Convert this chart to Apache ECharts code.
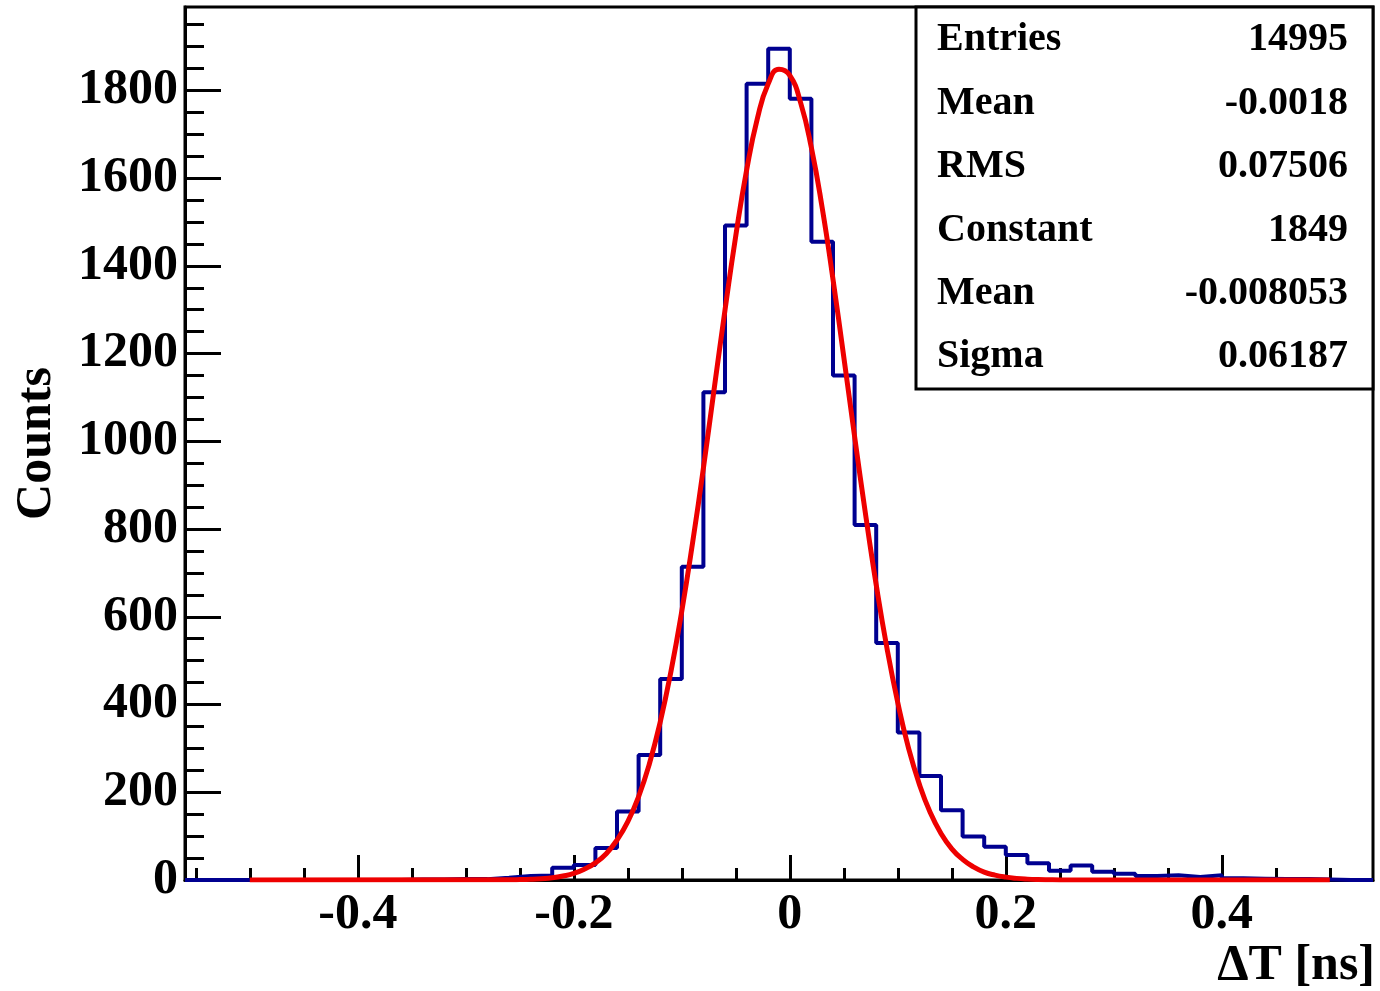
<!DOCTYPE html>
<html><head><meta charset="utf-8">
<script src="https://cdn.jsdelivr.net/npm/echarts@6/dist/echarts.min.js"></script>
<style>html,body{margin:0;padding:0;background:#fff}#c{width:1380px;height:991px}</style>
</head><body><div id="c"></div>
<script>
// Histogram: bins of width 0.02 starting at -0.56
const binLow = -0.56;
const binWidth = 0.02;
const counts = [0,0,0,0,0,0,0,0,0,0,
  1,1,2,2,5,9,10,28,34,73,
  156,285,458,714,1112,1492,1815,1895,1781,1455,
  1150,809,540,336,237,159,99,76,57,38,
  21,33,19,14,9,11,7,11,4,3,
  2,2,1,0,0];
// Gaussian fit curve
const fitX = [-0.5,-0.26,-0.25,-0.24,-0.23,-0.22,-0.21,-0.20,-0.19,-0.18,-0.17,-0.16,-0.15,-0.14,-0.13,-0.12,-0.11,-0.10,-0.09,-0.08,-0.07,-0.06,-0.05,-0.04,-0.03,-0.02,-0.01,
  0,0.01,0.02,0.03,0.04,0.05,0.06,0.07,0.08,0.09,0.10,0.11,0.12,0.13,0.14,0.15,0.16,0.17,0.18,0.19,0.20,0.21,0.22,0.23,0.24,0.25,0.5];
const fitY = [0,0.4,0.9,1.7,3,5,9,15,25,39,60,91,133,190,265,360,476,613,769,939,1120,1299,1469,1618,1736,1815,1848,
  1834,1772,1669,1532,1369,1192,1011,836,673,528,404,300,218,154,106,71,47,30,18,11,6.5,3.7,2,1,0.5,0.2,0];
const xMajorTicks = [-0.4,-0.2,0,0.2,0.4];
const xMinorTicks = [-0.55,-0.5,-0.45,-0.35,-0.3,-0.25,-0.15,-0.1,-0.05,0.05,0.1,0.15,0.25,0.3,0.35,0.45,0.5];
const yMajorTicks = [0,200,400,600,800,1000,1200,1400,1600,1800];
const yMinorTicks = [50,100,150,250,300,350,450,500,550,650,700,750,850,900,950,1050,1100,1150,1250,1300,1350,1450,1500,1550,1650,1700,1750,1850,1900,1950];
const statLabels = ['Entries','Mean','RMS','Constant','Mean','Sigma'];
const statValues = ['14995','-0.0018','0.07506','1849','-0.008053','0.06187'];

const FONT = '"Liberation Serif", "Times New Roman", serif';
const histData = counts.map((c, i) => [+(binLow + i * binWidth).toFixed(4), c]);
histData.push([+(binLow + counts.length * binWidth).toFixed(4), counts[counts.length - 1]]);
const fitData = fitX.map((x, i) => [x, fitY[i]]);

const chart = echarts.init(document.getElementById('c'), null, {renderer: 'canvas'});
const xMin = -0.56, xMax = 0.54, yMax = 1990;
const graphic = [{type: 'rect', z: 100, shape: {x: 916, y: 7, width: 457, height: 382},
  style: {fill: '#fff', stroke: '#000', lineWidth: 3}}];
statLabels.forEach((t, i) => {
  const y = 40 + i * 63.4;
  graphic.push({type: 'text', z: 101, x: 937, y: y,
    style: {text: t, font: 'bold 40px ' + FONT, fill: '#000', align: 'left', verticalAlign: 'middle'}});
  graphic.push({type: 'text', z: 101, x: 1348, y: y,
    style: {text: statValues[i], font: 'bold 40px ' + FONT, fill: '#000', align: 'right', verticalAlign: 'middle'}});
});
const plain = v => String(+v.toFixed(4));

chart.setOption({
  animation: false,
  backgroundColor: '#fff',
  grid: {left: 185, right: 7, top: 7, bottom: 110, show: true, borderColor: '#000', borderWidth: 3, backgroundColor: 'transparent'},
  xAxis: [{
    type: 'value', min: xMin, max: xMax, position: 'bottom',
    axisLine: {show: true, onZero: false, lineStyle: {color: '#000', width: 3}},
    axisTick: {show: true, inside: true, length: 25, customValues: xMajorTicks, lineStyle: {color: '#000', width: 3}},
    axisLabel: {show: true, customValues: xMajorTicks, formatter: plain, margin: 10, color: '#000', fontFamily: FONT, fontWeight: 'bold', fontSize: 50},
    splitLine: {show: false},
    name: 'ΔT [ns]', nameLocation: 'end', nameGap: 2,
    nameTextStyle: {color: '#000', fontFamily: FONT, fontWeight: 'bold', fontSize: 50, align: 'right', verticalAlign: 'top', padding: [61, 0, 0, 0]}
  }, {
    type: 'value', min: xMin, max: xMax, position: 'bottom',
    axisLine: {show: false, onZero: false},
    axisTick: {show: true, inside: true, length: 12, customValues: xMinorTicks, lineStyle: {color: '#000', width: 3}},
    axisLabel: {show: false}, splitLine: {show: false}
  }],
  yAxis: [{
    type: 'value', min: 0, max: yMax, position: 'left',
    axisLine: {show: true, onZero: false, lineStyle: {color: '#000', width: 3}},
    axisTick: {show: true, inside: true, length: 36, customValues: yMajorTicks, lineStyle: {color: '#000', width: 3}},
    axisLabel: {show: true, customValues: yMajorTicks, formatter: plain, margin: 7, color: '#000', fontFamily: FONT, fontWeight: 'bold', fontSize: 50},
    splitLine: {show: false},
    name: 'Counts', nameLocation: 'middle', nameGap: 123,
    nameTextStyle: {color: '#000', fontFamily: FONT, fontWeight: 'bold', fontSize: 50}
  }, {
    type: 'value', min: 0, max: yMax, position: 'left',
    axisLine: {show: false, onZero: false},
    axisTick: {show: true, inside: true, length: 19, customValues: yMinorTicks, lineStyle: {color: '#000', width: 3}},
    axisLabel: {show: false}, splitLine: {show: false}
  }],
  series: [{
    type: 'line', name: 'hist', xAxisIndex: 0, yAxisIndex: 0, step: 'end', data: histData,
    showSymbol: false, symbol: 'none', lineStyle: {color: '#000090', width: 4}, z: 2
  }, {
    type: 'line', name: 'fit', xAxisIndex: 0, yAxisIndex: 0, data: fitData, smooth: true,
    showSymbol: false, symbol: 'none', lineStyle: {color: '#ee0000', width: 5}, z: 3
  }],
  graphic: graphic
});
</script>
</body></html>
